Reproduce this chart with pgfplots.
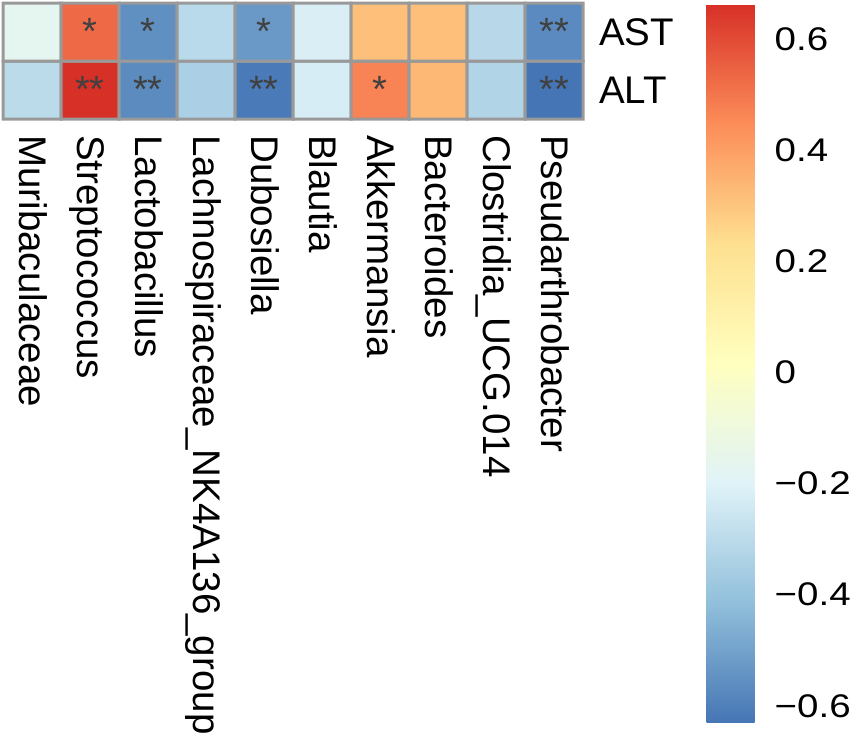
\documentclass[border=0pt]{standalone}
\usepackage{fontspec}
\setmainfont{Liberation Sans}
\usepackage{graphicx}
\usepackage{pgfplots}
\usepackage{pgfplotstable}
\pgfplotsset{compat=1.18}
\definecolor{grey60}{RGB}{153,153,153}
\definecolor{grey30}{RGB}{64,64,64}
\pgfplotsset{colormap={rdylbu}{rgb255=(69,117,180) rgb255=(145,191,219) rgb255=(224,243,248) rgb255=(255,255,191) rgb255=(254,224,144) rgb255=(252,141,89) rgb255=(215,48,39)}}
\newcommand\lab{\fontsize{38.5}{40}\selectfont}
\newcommand\cb[1]{\scalebox{1}[0.85]{#1}}
\pgfplotstableread{
x y v
0 0 -0.300
1 0 0.663
2 0 -0.566
3 0 -0.344
4 0 -0.617
5 0 -0.223
6 0 0.470
7 0 0.336
8 0 -0.327
9 0 -0.631
0 1 -0.166
1 1 0.529
2 1 -0.555
3 1 -0.305
4 1 -0.526
5 1 -0.219
6 1 0.318
7 1 0.318
8 1 -0.310
9 1 -0.571
}\heat
\pgfplotstableread{
x y s
1 1 *
2 1 *
4 1 *
9 1 **
1 0 **
2 0 **
4 0 **
6 0 *
9 0 **
}\stars
\begin{document}
\begin{tikzpicture}
\path[use as bounding box] (0,0) rectangle (851pt,-736pt);
\begin{axis}[
  at={(3pt,-3pt)}, anchor=north west,
  width=580pt, height=116pt, scale only axis,
  xmin=-0.5, xmax=9.5, ymin=-0.5, ymax=1.5,
  axis line style={draw=none}, xtick=\empty, ytick=\empty,
  colormap name=rdylbu,
  point meta min=-0.631, point meta max=0.663,
  clip=false,
  colorbar,
  colorbar/width=48pt,
  colorbar style={
    at={(parent axis.north east)}, anchor=north west,
    xshift=115pt, yshift=-1pt,
    width=48pt, height=719pt, scale only axis,
    axis line style={draw=none},
    major tick length=0pt,
    ytick={-0.6,-0.4,-0.2,0,0.2,0.4,0.6},
    yticklabels={\cb{−0.6},\cb{−0.4},\cb{−0.2},\cb{0},\cb{0.2},\cb{0.4},\cb{0.6}},
    yticklabel style={font=\lab, anchor=west, inner sep=0pt, xshift=20pt},
  },
]
\addplot[matrix plot*, mesh/cols=10, mesh/rows=2, point meta=explicit, draw=grey60, line width=3pt]
  table[x=x, y=y, meta=v] {\heat};
\addplot[only marks, mark=none, point meta=explicit symbolic,
  nodes near coords,
  every node near coord/.append style={anchor=center, font=\fontsize{38}{38}\selectfont, text=grey30, inner sep=0pt, yshift=1pt}]
  table[x=x, y=y, meta=s] {\stars};
\node[anchor=west, inner sep=0pt, font=\lab] at ([xshift=16pt]axis cs:9.5,1) {AST};
\node[anchor=west, inner sep=0pt, font=\lab] at ([xshift=16pt]axis cs:9.5,0) {ALT};
\node[rotate=-90, anchor=base west, inner sep=0pt, font=\lab] at ([xshift=-13pt,yshift=-16pt]axis cs:0,-0.5) {Muribaculaceae};
\node[rotate=-90, anchor=base west, inner sep=0pt, font=\lab] at ([xshift=-13pt,yshift=-16pt]axis cs:1,-0.5) {Streptococcus};
\node[rotate=-90, anchor=base west, inner sep=0pt, font=\lab] at ([xshift=-13pt,yshift=-16pt]axis cs:2,-0.5) {Lactobacillus};
\node[rotate=-90, anchor=base west, inner sep=0pt, font=\lab] at ([xshift=-13pt,yshift=-16pt]axis cs:3,-0.5) {Lachnospiraceae\_NK4A136\_group};
\node[rotate=-90, anchor=base west, inner sep=0pt, font=\lab] at ([xshift=-13pt,yshift=-16pt]axis cs:4,-0.5) {Dubosiella};
\node[rotate=-90, anchor=base west, inner sep=0pt, font=\lab] at ([xshift=-13pt,yshift=-16pt]axis cs:5,-0.5) {Blautia};
\node[rotate=-90, anchor=base west, inner sep=0pt, font=\lab] at ([xshift=-13pt,yshift=-16pt]axis cs:6,-0.5) {Akkermansia};
\node[rotate=-90, anchor=base west, inner sep=0pt, font=\lab] at ([xshift=-13pt,yshift=-16pt]axis cs:7,-0.5) {Bacteroides};
\node[rotate=-90, anchor=base west, inner sep=0pt, font=\lab] at ([xshift=-13pt,yshift=-16pt]axis cs:8,-0.5) {Clostridia\_UCG.014};
\node[rotate=-90, anchor=base west, inner sep=0pt, font=\lab] at ([xshift=-13pt,yshift=-16pt]axis cs:9,-0.5) {Pseudarthrobacter};
\end{axis}
\end{tikzpicture}
\end{document}
